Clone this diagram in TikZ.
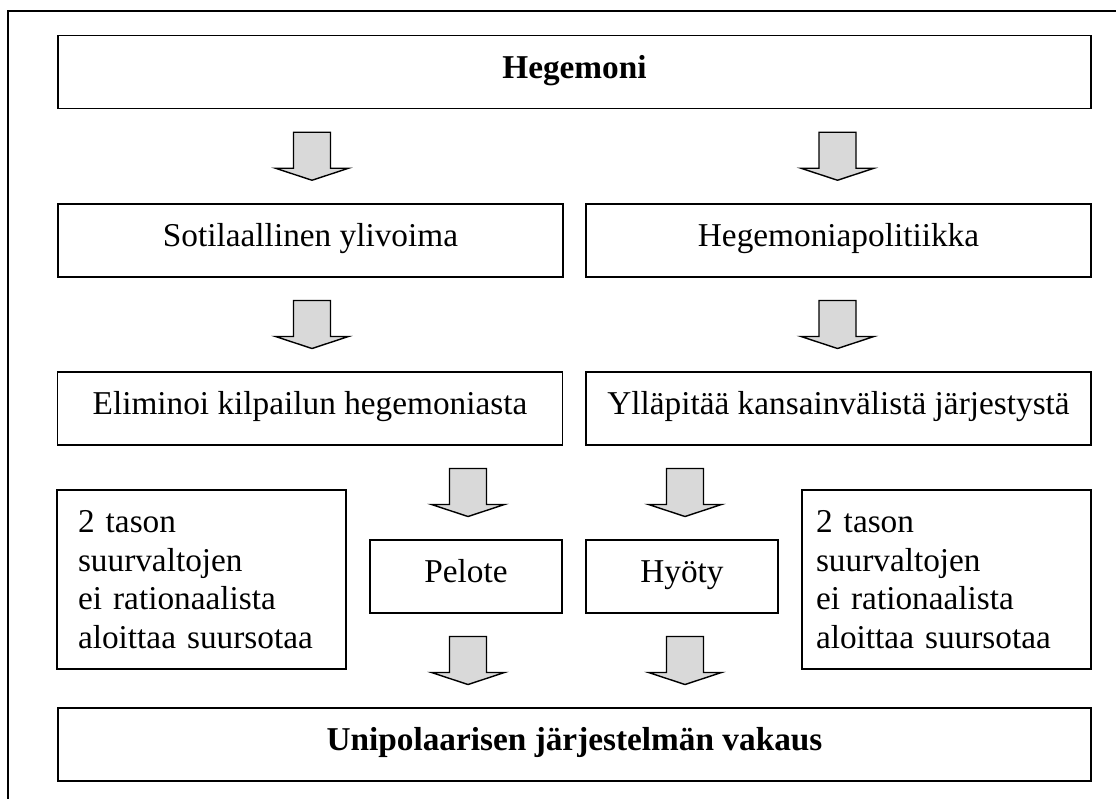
\documentclass[tikz,border=0pt]{standalone}
\usepackage{fontspec}
\setmainfont{Liberation Serif}
\usetikzlibrary{calc}
\definecolor{arrowgray}{RGB}{217,217,217}
\begin{document}
\begin{tikzpicture}[x=1pt, y=-1pt,
  box/.style={draw, line width=1.6pt, inner sep=0pt, align=center,
    font=\fontsize{33.3}{38.7}\selectfont, minimum height=73pt,
    text height=20pt, text depth=8pt},
  widebox/.style={box, minimum width=1033pt},
  halfbox/.style={box, minimum width=505pt},
  smallbox/.style={box, minimum width=192pt},
  tallbox/.style={draw, line width=1.6pt, align=left, inner ysep=0pt,
    font=\fontsize{33.3}{38.7}\selectfont, minimum width=289pt, minimum height=179pt},
  blockarrow/.pic={
    \draw[line width=1.4pt, fill=arrowgray, line join=miter]
      (-18.5,-24) -- (18.5,-24) -- (18.5,12) -- (36.5,12) -- (0,24)
      -- (-36.5,12) -- (-18.5,12) -- cycle;
  }]
\useasboundingbox (0,0) rectangle (1116,798);
\clip (0,0) rectangle (1116,798);

% outer frame
\draw[line width=1.8pt] (8,820) -- (8,11) -- (1140,11);

% boxes
\node[widebox] (hegemoni) at (574.5,72) {\bfseries Hegemoni};
\node[halfbox] (sotilas) at (310.5,240.5) {Sotilaallinen ylivoima};
\node[halfbox] (politiikka) at (838.5,240.5) {Hegemoniapolitiikka};
\node[halfbox] (eliminoi) at (310,408.5) {Eliminoi kilpailun hegemoniasta};
\node[halfbox] (yllapitaa) at (838.5,408.5) {Ylläpitää kansainvälistä järjestystä};
\node[tallbox, inner xsep=21pt, text width=247pt] (tasoL) at (201.5,579.5)
  {2 tason\\suurvaltojen\\ei rationaalista\\aloittaa suursotaa};
\node[smallbox] (pelote) at (466,576.5) {Pelote};
\node[smallbox] (hyoty) at (682,576.5) {Hyöty};
\node[tallbox, inner xsep=14pt, text width=261pt] (tasoR) at (946.5,579.5)
  {2 tason\\suurvaltojen\\ei rationaalista\\aloittaa suursotaa};
\node[widebox] (vakaus) at (574.5,744.5) {\bfseries Unipolaarisen järjestelmän vakaus};

% arrow columns
\coordinate (cA) at (312,0);
\coordinate (cB) at (837.5,0);
\coordinate (cC) at (468,0);
\coordinate (cD) at (685,0);

% block arrows between the boxes
\pic at ($(hegemoni.south -| cA)!0.5!(sotilas.north -| cA)$) {blockarrow};
\pic at ($(hegemoni.south -| cB)!0.5!(politiikka.north -| cB)$) {blockarrow};
\pic at ($(sotilas.south -| cA)!0.5!(eliminoi.north -| cA)$) {blockarrow};
\pic at ($(politiikka.south -| cB)!0.5!(yllapitaa.north -| cB)$) {blockarrow};
\pic at ($(eliminoi.south -| cC)!0.5!(pelote.north -| cC)$) {blockarrow};
\pic at ($(yllapitaa.south -| cD)!0.5!(hyoty.north -| cD)$) {blockarrow};
\pic at ($(pelote.south -| cC)!0.5!(vakaus.north -| cC)$) {blockarrow};
\pic at ($(hyoty.south -| cD)!0.5!(vakaus.north -| cD)$) {blockarrow};
\end{tikzpicture}
\end{document}
